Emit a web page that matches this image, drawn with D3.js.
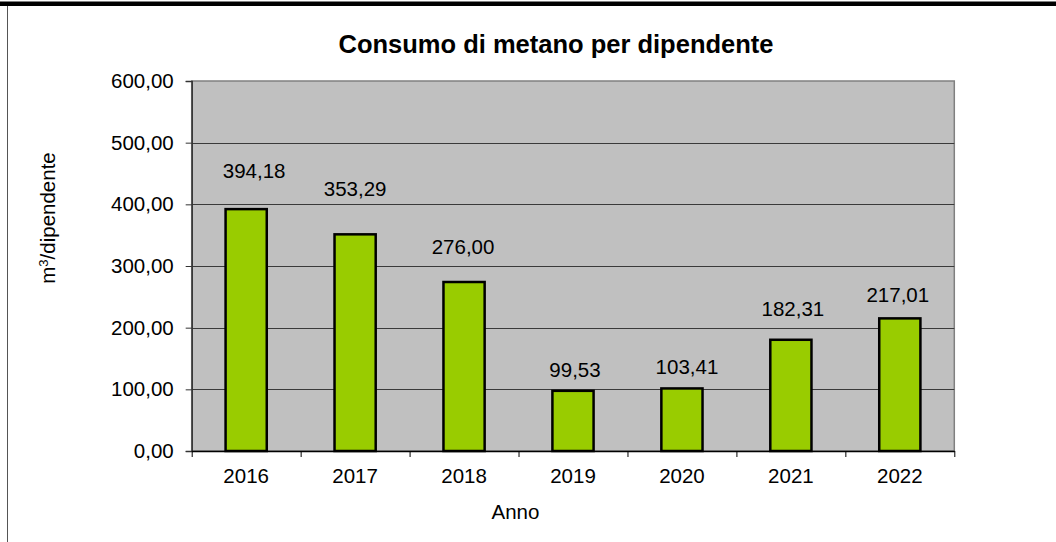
<!DOCTYPE html>
<html>
  <head>
    <meta charset="utf-8">
    <title>Consumo di metano per dipendente</title>
    <style>
      body { margin: 0; background: #fff; }
      svg { display: block; font-family: "Liberation Sans", Arial, sans-serif; }
    </style>
  </head>
  <body>
    <svg width="1056" height="542"></svg>
    <script src="https://d3js.org/d3.v7.min.js"></script>
    <script>

    // data
    var years = ["2016", "2017", "2018", "2019", "2020", "2021", "2022"];
    var consumo = [394.18, 353.29, 276.00, 99.53, 103.41, 182.31, 217.01];
    var yTicks = [0, 100, 200, 300, 400, 500, 600];

    // the data labels were nudged by hand in the original, [dx, gap above bar]
    var labelNudge = [[8, 30], [0, 37], [-1, 27], [2, 13], [5, 13], [2, 23], [-2, 15]];

    var it = d3.formatLocale({decimal: ",", thousands: ".", grouping: [3], currency: ["", " €"]});
    var fmt = it.format(".2f");

    var svg = d3.select("svg"),
        plot = {left: 191.7, right: 954.3, top: 81, bottom: 451};

    // frame lines of the page
    svg.append("rect").attr("x", 0).attr("y", 1.5).attr("width", 1056).attr("height", 4.5).attr("fill", "#000");
    svg.append("line").attr("x1", 7.5).attr("x2", 7.5).attr("y1", 6).attr("y2", 542)
        .attr("stroke", "#555").attr("stroke-width", 1);

    var x = d3.scaleBand().domain(years).range([plot.left, plot.right]);
    var xEdge = d3.scaleLinear().domain([0, years.length]).range([plot.left, plot.right]);
    var y = d3.scaleLinear().domain([0, 600]).range([plot.bottom, plot.top]);

    // plot area
    svg.append("rect")
        .attr("x", plot.left).attr("y", plot.top)
        .attr("width", plot.right - plot.left).attr("height", plot.bottom - plot.top)
        .attr("fill", "#c0c0c0").attr("stroke", "#808080").attr("stroke-width", 1.5);

    // gridlines
    svg.append("g").selectAll("line")
        .data(yTicks.slice(1, -1))
      .enter().append("line")
        .attr("x1", plot.left).attr("x2", plot.right)
        .attr("y1", function(d) { return Math.round(y(d)) + 0.5; })
        .attr("y2", function(d) { return Math.round(y(d)) + 0.5; })
        .attr("stroke", "#3a3a3a").attr("stroke-width", 1);

    // bars
    var bw = x.bandwidth() * 0.4;
    svg.append("g").selectAll("rect")
        .data(consumo)
      .enter().append("rect")
        .attr("x", function(d, i) { return x(years[i]) + x.bandwidth() / 2 - bw / 2 + 1.2; })
        .attr("y", function(d) { return y(d) + 1.2; })
        .attr("width", bw - 2.4)
        .attr("height", function(d) { return y(0) - y(d) - 1.2; })
        .attr("fill", "#99cc00").attr("stroke", "#000").attr("stroke-width", 2.5);

    // value labels
    svg.append("g").selectAll("text")
        .data(consumo)
      .enter().append("text")
        .attr("x", function(d, i) { return x(years[i]) + x.bandwidth() / 2 + labelNudge[i][0]; })
        .attr("y", function(d, i) { return y(d) - labelNudge[i][1]; })
        .attr("text-anchor", "middle")
        .attr("font-size", "20.5px")
        .attr("fill", "#000")
        .text(function(d) { return fmt(d); });

    // y axis
    var yAxis = svg.append("g")
        .attr("transform", "translate(" + plot.left + ",0)")
        .call(d3.axisLeft(y).tickValues(yTicks).tickFormat(fmt).tickSize(6).tickPadding(12));
    yAxis.select(".domain").attr("stroke", "#333").attr("stroke-width", 1.5);
    yAxis.selectAll(".tick line").attr("stroke", "#333");
    yAxis.selectAll("text").attr("font-size", "20.5px").attr("fill", "#000").attr("font-family", null);

    // x axis: ticks at category edges, labels at centres
    var xTicks = svg.append("g")
        .attr("transform", "translate(0," + plot.bottom + ")")
        .call(d3.axisBottom(xEdge).tickValues(d3.range(years.length + 1)).tickFormat("").tickSize(6).tickSizeOuter(0));
    xTicks.select(".domain").attr("stroke", "#000").attr("stroke-width", 1.5);
    xTicks.selectAll(".tick line").attr("stroke", "#000");

    var xLabels = svg.append("g")
        .attr("transform", "translate(0," + plot.bottom + ")")
        .call(d3.axisBottom(x).tickSize(0).tickPadding(17));
    xLabels.select(".domain").remove();
    xLabels.selectAll("text").attr("font-size", "20.5px").attr("fill", "#000").attr("font-family", null);

    // titles
    svg.append("text")
        .attr("x", 556).attr("y", 53)
        .attr("text-anchor", "middle")
        .attr("font-size", "25.5px").attr("font-weight", "bold")
        .text("Consumo di metano per dipendente");

    svg.append("text")
        .attr("x", 515.5).attr("y", 519)
        .attr("text-anchor", "middle")
        .attr("font-size", "20.5px")
        .text("Anno");

    var yt = svg.append("text")
        .attr("transform", "translate(55,218) rotate(-90)")
        .attr("text-anchor", "middle")
        .attr("font-size", "20.5px");
    yt.append("tspan").text("m");
    yt.append("tspan").attr("font-size", "13px").attr("dy", "-7").text("3");
    yt.append("tspan").attr("dy", "7").text("/dipendente");

    </script>
  </body>
</html>
